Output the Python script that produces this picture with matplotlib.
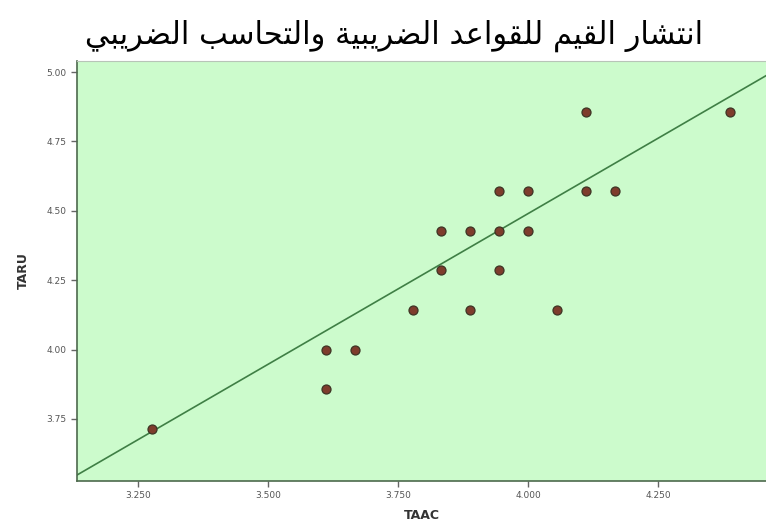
import numpy as np
from matplotlib import pyplot as plt

# scatter data: TAAC on x, TARU on y
taac = [3.278, 3.611, 3.611, 3.667, 3.778, 3.889, 4.056, 3.833, 3.944, 3.833,
        3.889, 3.944, 4.000, 3.944, 4.000, 4.111, 4.167, 4.111, 4.389]
taru = [3.714, 3.857, 4.000, 4.000, 4.143, 4.143, 4.143, 4.286, 4.286, 4.429,
        4.429, 4.429, 4.429, 4.571, 4.571, 4.571, 4.571, 4.857, 4.857]

# fit line (total)
fit_slope = 1.087
fit_intercept = 0.142

x_ticks = [3.25, 3.50, 3.75, 4.00, 4.25]
y_ticks = [3.75, 4.00, 4.25, 4.50, 4.75, 5.00]

title_text = "انتشار القيم للقواعد الضريبية والتحاسب الضريبي"

# arabic presentation forms: isolated, final, initial, medial
FORMS = {
    'ا': (0xFE8D, 0xFE8E, None, None),
    'ب': (0xFE8F, 0xFE90, 0xFE91, 0xFE92),
    'ة': (0xFE93, 0xFE94, None, None),
    'ت': (0xFE95, 0xFE96, 0xFE97, 0xFE98),
    'ح': (0xFEA1, 0xFEA2, 0xFEA3, 0xFEA4),
    'د': (0xFEA9, 0xFEAA, None, None),
    'ر': (0xFEAD, 0xFEAE, None, None),
    'س': (0xFEB1, 0xFEB2, 0xFEB3, 0xFEB4),
    'ش': (0xFEB5, 0xFEB6, 0xFEB7, 0xFEB8),
    'ض': (0xFEBD, 0xFEBE, 0xFEBF, 0xFEC0),
    'ع': (0xFEC9, 0xFECA, 0xFECB, 0xFECC),
    'ق': (0xFED5, 0xFED6, 0xFED7, 0xFED8),
    'ل': (0xFEDD, 0xFEDE, 0xFEDF, 0xFEE0),
    'م': (0xFEE1, 0xFEE2, 0xFEE3, 0xFEE4),
    'ن': (0xFEE5, 0xFEE6, 0xFEE7, 0xFEE8),
    'و': (0xFEED, 0xFEEE, None, None),
    'ي': (0xFEF1, 0xFEF2, 0xFEF3, 0xFEF4),
}


def shape_arabic(text):
    out = []
    for i, ch in enumerate(text):
        if ch not in FORMS:
            out.append(ch)
            continue
        prev = text[i - 1] if i > 0 else ''
        nxt = text[i + 1] if i + 1 < len(text) else ''
        joins_prev = prev in FORMS and FORMS[prev][2] is not None
        joins_next = FORMS[ch][2] is not None and nxt in FORMS
        iso, fin, ini, med = FORMS[ch]
        if joins_prev and joins_next:
            code = med
        elif joins_prev:
            code = fin
        elif joins_next:
            code = ini
        else:
            code = iso
        out.append(chr(code))
    # right to left -> visual order
    return ''.join(out[::-1])


fig = plt.figure(figsize=(7.66, 5.29), dpi=100)
fig.patch.set_facecolor('white')
ax = fig.add_axes([0.1005, 0.0907, 0.9, 0.794])
ax.set_facecolor('#ccfbcc')

xs = np.array([3.10, 4.50])
ax.plot(xs, fit_intercept + fit_slope * xs, color='#3f7f45', lw=1.2, zorder=2)
ax.scatter(taac, taru, s=42, facecolor='#7e3c2c', edgecolor='#3e3424',
           linewidth=0.9, zorder=3)

ax.set_xlim(3.133, 4.458)
ax.set_ylim(3.526, 5.04)
ax.set_xticks(x_ticks)
ax.set_xticklabels([f'{v:.3f}' for v in x_ticks])
ax.set_yticks(y_ticks)
ax.set_yticklabels([f'{v:.2f}' for v in y_ticks])
ax.tick_params(direction='out', length=4, width=1, colors='#666666',
               labelsize=6.5, labelcolor='#555555')

for side in ('left', 'bottom'):
    ax.spines[side].set_color('#4d6a4d')
    ax.spines[side].set_linewidth(1.2)
ax.spines['top'].set_color('#b8c4b8')
ax.spines['right'].set_visible(False)

ax.set_xlabel('TAAC', fontsize=9, fontweight='bold', color='#333333', labelpad=6)
ax.set_ylabel('TARU', fontsize=9, fontweight='bold', color='#333333', labelpad=12)

fig.text(0.515, 0.917, shape_arabic(title_text), ha='center', va='baseline',
         fontsize=22, family='DejaVu Sans', color='black')

plt.savefig('out.png', dpi=100)
